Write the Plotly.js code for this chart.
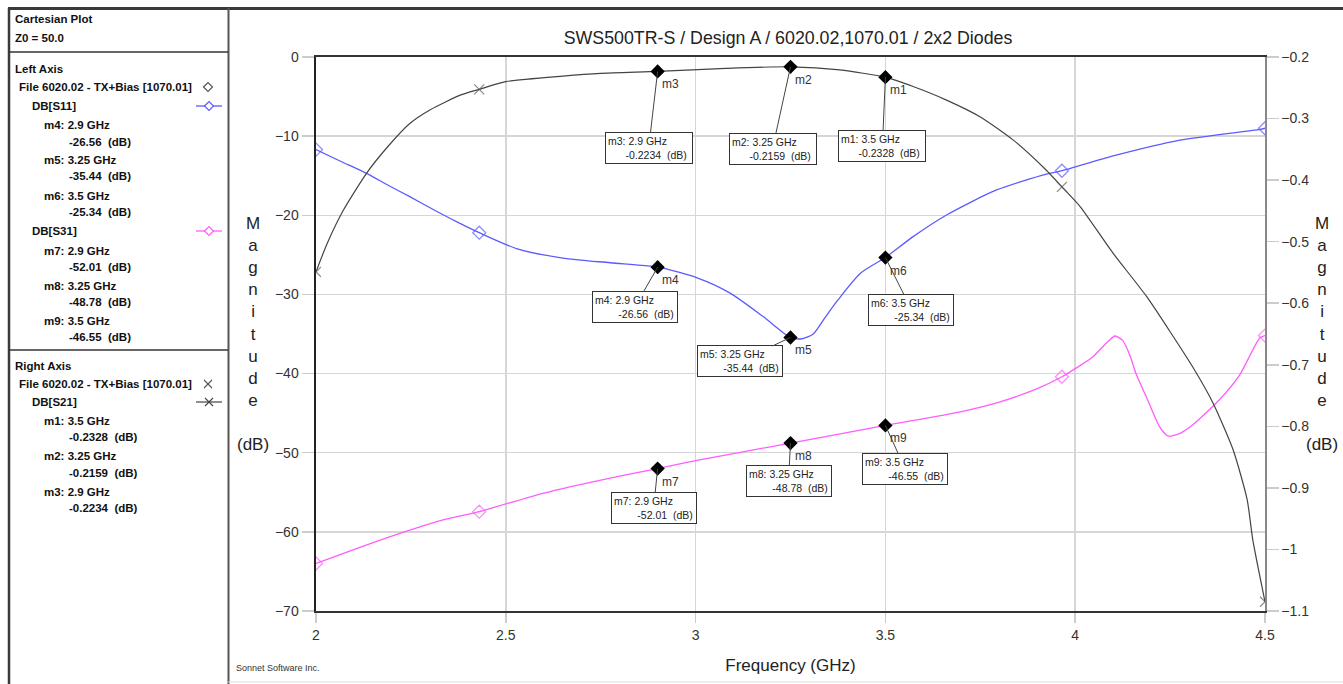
<!DOCTYPE html>
<html>
<head>
<meta charset="utf-8">
<script src="https://cdn.plot.ly/plotly-3.0.1.min.js"></script>
<style>html,body{margin:0;padding:0;background:#fff;}#chart{width:1343px;height:684px;}</style>
</head>
<body>
<div id="chart"></div>
<script>
// ---------- DATA ----------
const s11Freq = [2.000,2.066,2.133,2.190,2.247,2.310,2.370,2.430,2.528,2.650,2.775,2.900,3.004,3.090,3.178,3.250,3.280,3.310,3.340,3.375,3.435,3.500,3.573,3.661,3.793,3.924,3.965,4.100,4.276,4.487,4.500];
const s11Val  = [-11.7,-13.2,-14.7,-16.2,-17.65,-19.3,-20.8,-22.2,-24.2,-25.4,-26.0,-26.56,-27.9,-29.8,-32.8,-35.44,-35.6,-35.0,-33.0,-30.7,-27.3,-25.34,-22.7,-19.96,-16.8,-14.8,-14.37,-12.5,-10.5,-9.14,-9.0];

const s31Freq = [2.000,2.160,2.335,2.430,2.600,2.775,2.900,3.000,3.250,3.500,3.700,3.800,3.900,3.965,4.046,4.085,4.105,4.125,4.145,4.160,4.187,4.222,4.245,4.276,4.309,4.380,4.433,4.486,4.500];
const s31Val  = [-64.0,-61.2,-58.5,-57.45,-55.1,-53.2,-52.01,-51.0,-48.78,-46.55,-44.8,-43.6,-41.9,-40.4,-37.9,-36.0,-35.25,-35.8,-37.8,-40.0,-42.9,-46.7,-47.9,-47.55,-46.5,-43.3,-40.2,-35.5,-35.2];

const s21Freq = [2.000,2.030,2.072,2.133,2.190,2.247,2.300,2.380,2.430,2.500,2.650,2.750,2.900,3.080,3.250,3.380,3.500,3.573,3.661,3.749,3.837,3.924,3.965,4.013,4.100,4.188,4.310,4.363,4.416,4.453,4.468,4.500];
const s21Val  = [-0.549,-0.502,-0.449,-0.389,-0.345,-0.308,-0.286,-0.262,-0.2525,-0.240,-0.231,-0.2265,-0.2234,-0.2185,-0.2159,-0.221,-0.2328,-0.248,-0.270,-0.297,-0.335,-0.384,-0.411,-0.443,-0.519,-0.589,-0.704,-0.762,-0.838,-0.919,-0.985,-1.085];

const symbolFreq = [2.000, 2.430, 3.965, 4.500];

const markFreq = [2.9, 3.25, 3.5];
const s11Marks = [-26.56, -35.44, -25.34];   // m4, m5, m6
const s31Marks = [-52.01, -48.78, -46.55];   // m7, m8, m9
const s21Marks = [-0.2234, -0.2159, -0.2328]; // m3, m2, m1

const xTicks = [2, 2.5, 3, 3.5, 4, 4.5];
const xTickText = ['2', '2.5', '3', '3.5', '4', '4.5'];
const yTicks = [0, -10, -20, -30, -40, -50, -60, -70];
const y2Ticks = [-0.2, -0.3, -0.4, -0.5, -0.6, -0.7, -0.8, -0.9, -1, -1.1];

const titleText = 'SWS500TR-S / Design A / 6020.02,1070.01 / 2x2 Diodes';

// ---------- LAYOUT HELPERS ----------
const W = 1343, H = 684, ML = 316, MT = 57, MR = 78, MB = 73;
const PW = W - ML - MR, PH = H - MT - MB;
const px = x => (x - ML) / PW;
const py = y => 1 - (y - MT) / PH;

const FONT = 'Liberation Sans, Arial, sans-serif';
const C11 = '#5b5bff', C31 = '#ff5cff', C21 = '#444444';

function sizes(freqs) { return freqs.map(f => symbolFreq.some(s => Math.abs(s - f) < 1e-6) ? 10 : 0); }

const traces = [
  {x: s11Freq, y: s11Val, type: 'scatter', mode: 'lines+markers', name: 'DB[S11]',
   line: {color: C11, width: 1.3, shape: 'spline', smoothing: 0.7},
   marker: {symbol: 'diamond-open', size: sizes(s11Freq), color: C11, line: {width: 1.3}}},
  {x: s31Freq, y: s31Val, type: 'scatter', mode: 'lines+markers', name: 'DB[S31]',
   line: {color: C31, width: 1.3, shape: 'spline', smoothing: 0.6},
   marker: {symbol: 'diamond-open', size: sizes(s31Freq), color: C31, line: {width: 1.3}}},
  {x: s21Freq, y: s21Val, type: 'scatter', mode: 'lines+markers', name: 'DB[S21]', yaxis: 'y2',
   line: {color: C21, width: 1.2, shape: 'spline', smoothing: 0.6},
   marker: {symbol: 'x-thin-open', size: sizes(s21Freq), color: '#555', line: {width: 1.2, color: '#555'}}},
  {x: markFreq, y: s11Marks, type: 'scatter', mode: 'markers', marker: {symbol: 'diamond', size: 11, color: '#000'}},
  {x: markFreq, y: s31Marks, type: 'scatter', mode: 'markers', marker: {symbol: 'diamond', size: 11, color: '#000'}},
  {x: markFreq, y: s21Marks, type: 'scatter', mode: 'markers', yaxis: 'y2', marker: {symbol: 'diamond', size: 11, color: '#000'}}
];

const annotations = [];
const shapes = [];
const nb = n => '\u00a0'.repeat(n);

// marker boxes
const boxes = [
  {name: 'm3', f: 2.9,  v: s21Marks[0], yref: 'y2', ax: -9,  ay: 77},
  {name: 'm2', f: 3.25, v: s21Marks[1], yref: 'y2', ax: -18, ay: 82},
  {name: 'm1', f: 3.5,  v: s21Marks[2], yref: 'y2', ax: -3,  ay: 69},
  {name: 'm4', f: 2.9,  v: s11Marks[0], yref: 'y',  ax: -23, ay: 40},
  {name: 'm5', f: 3.25, v: s11Marks[1], yref: 'y',  ax: -51, ay: 24},
  {name: 'm6', f: 3.5,  v: s11Marks[2], yref: 'y',  ax: 26,  ay: 52},
  {name: 'm7', f: 2.9,  v: s31Marks[0], yref: 'y',  ax: -4,  ay: 39},
  {name: 'm8', f: 3.25, v: s31Marks[1], yref: 'y',  ax: -2,  ay: 38},
  {name: 'm9', f: 3.5,  v: s31Marks[2], yref: 'y',  ax: 20,  ay: 44}
];
boxes.forEach(b => {
  const fs = (b.f === 3.25) ? '3.25' : String(b.f);
  const isR = b.yref === 'y2';
  const vs = isR ? b.v.toFixed(4) : b.v.toFixed(2);
  annotations.push({
    x: b.f, y: b.v, xref: 'x', yref: b.yref, ax: b.ax, ay: b.ay,
    showarrow: true, arrowhead: 0, arrowwidth: 1, arrowcolor: '#444', standoff: 0,
    text: b.name + ': ' + fs + ' GHz<br>' + nb(isR ? 6 : 8) + vs + nb(2) + '(dB)',
    align: 'left', width: isR ? 82 : 80, borderpad: 2, bordercolor: '#333', borderwidth: 1, bgcolor: '#fff',
    font: {family: FONT, size: 10.5, color: '#222'}
  });
  annotations.push({
    x: b.f, y: b.v, xref: 'x', yref: b.yref, showarrow: false, xshift: 13, yshift: -13,
    text: b.name, font: {family: FONT, size: 12, color: '#333'}
  });
});

// y axis titles (stacked letters)
const stack = 'M<br>a<br>g<br>n<br>i<br>t<br>u<br>d<br>e<br><br>(dB)';
annotations.push({xref: 'paper', yref: 'paper', x: px(253), y: py(334), text: stack, showarrow: false,
  xanchor: 'center', yanchor: 'middle', align: 'center', font: {family: FONT, size: 17, color: '#222'}});
annotations.push({xref: 'paper', yref: 'paper', x: px(1322), y: py(334), text: stack, showarrow: false,
  xanchor: 'center', yanchor: 'middle', align: 'center', font: {family: FONT, size: 17, color: '#222'}});

// left info panel text
const panel = [
  ['Cartesian Plot', 13, 19], ['Z0 = 50.0', 13, 38],
  ['Left Axis', 13, 69], ['File 6020.02 - TX+Bias [1070.01]', 17, 87], ['DB[S11]', 30, 106],
  ['m4: 2.9 GHz', 42, 125], ['-26.56  (dB)', 67, 142],
  ['m5: 3.25 GHz', 42, 160], ['-35.44  (dB)', 67, 176],
  ['m6: 3.5 GHz', 42, 196], ['-25.34  (dB)', 67, 212],
  ['DB[S31]', 30, 231],
  ['m7: 2.9 GHz', 42, 251], ['-52.01  (dB)', 67, 267],
  ['m8: 3.25 GHz', 42, 286], ['-48.78  (dB)', 67, 302],
  ['m9: 3.5 GHz', 42, 321], ['-46.55  (dB)', 67, 337],
  ['Right Axis', 13, 366], ['File 6020.02 - TX+Bias [1070.01]', 17, 384], ['DB[S21]', 30, 402],
  ['m1: 3.5 GHz', 42, 421], ['-0.2328  (dB)', 67, 437],
  ['m2: 3.25 GHz', 42, 456], ['-0.2159  (dB)', 67, 473],
  ['m3: 2.9 GHz', 42, 492], ['-0.2234  (dB)', 67, 508]
];
panel.forEach(p => annotations.push({
  xref: 'paper', yref: 'paper', x: px(p[1]), y: py(p[2]), xanchor: 'left', yanchor: 'middle',
  showarrow: false, text: '<b>' + p[0].replace(/  /g, '\u00a0\u00a0') + '</b>',
  font: {family: FONT, size: 11.5, color: '#111'}
}));
annotations.push({xref: 'paper', yref: 'paper', x: px(234), y: py(668), xanchor: 'left', yanchor: 'middle',
  showarrow: false, text: 'Sonnet Software Inc.', font: {family: FONT, size: 9, color: '#333'}});

// panel frame
const pline = (x0, y0, x1, y1, w, c) => shapes.push({type: 'line', xref: 'paper', yref: 'paper',
  x0: px(x0), y0: py(y0), x1: px(x1), y1: py(y1), line: {color: c, width: w}});
pline(8, 8.5, 1343, 8.5, 3, '#3a3a3a');
pline(9, 8, 9, 684, 2.5, '#3a3a3a');
pline(228.5, 8, 228.5, 684, 2, '#555');
pline(9, 52, 228, 52, 1.5, '#333');
pline(9, 350, 228, 350, 1.5, '#333');
pline(228, 682, 1343, 682, 1, '#ddd');

// legend symbols
function diamond(cx, cy, r, c) {
  shapes.push({type: 'path', xref: 'paper', yref: 'paper', fillcolor: '#fff', line: {color: c, width: 1.2},
    path: `M ${px(cx - r)},${py(cy)} L ${px(cx)},${py(cy - r)} L ${px(cx + r)},${py(cy)} L ${px(cx)},${py(cy + r)} Z`});
}
function cross(cx, cy, r, c) {
  pline(cx - r, cy - r, cx + r, cy + r, 1.1, c);
  pline(cx - r, cy + r, cx + r, cy - r, 1.1, c);
}
diamond(208, 87, 4.5, '#555');
pline(196, 106, 222, 106, 1.3, C11); diamond(209, 106, 4.5, C11);
pline(196, 231, 222, 231, 1.3, C31); diamond(209, 231, 4.5, C31);
cross(208, 384, 4, '#555');
pline(196, 402, 222, 402, 1.2, '#444'); cross(209, 402, 4, '#444');

const layout = {
  width: W, height: H,
  margin: {l: ML, r: MR, t: MT, b: MB, pad: 0},
  paper_bgcolor: '#fff', plot_bgcolor: '#fff',
  showlegend: false,
  font: {family: FONT, color: '#222'},
  title: {text: titleText, x: (788 - ML) / PW, xref: 'paper', xanchor: 'center', y: 1 - 38 / H, yref: 'container', yanchor: 'middle',
    font: {family: FONT, size: 17.8, color: '#222'}},
  xaxis: {range: [2, 4.5], tickvals: xTicks, ticktext: xTickText, showgrid: true, gridcolor: '#d6d6d6', gridwidth: 1.5,
    zeroline: false, showline: true, mirror: true, linecolor: '#333', linewidth: 2,
    ticks: 'outside', ticklen: 10, tickcolor: '#ccc', tickwidth: 1.5,
    tickfont: {family: FONT, size: 14, color: '#333'},
    title: {text: 'Frequency (GHz)', standoff: 17, font: {family: FONT, size: 17, color: '#222'}}},
  yaxis: {range: [-70, 0], tickvals: yTicks, showgrid: true, gridcolor: '#d6d6d6', gridwidth: 1.5,
    zeroline: false, showline: true, linecolor: '#222', linewidth: 2.5,
    ticks: 'outside', ticklen: 12, tickcolor: '#ccc', tickwidth: 1.5,
    tickfont: {family: FONT, size: 14, color: '#333'}},
  yaxis2: {range: [-1.1, -0.2], tickvals: y2Ticks, overlaying: 'y', side: 'right', showgrid: false,
    zeroline: false, showline: true, linecolor: '#888', linewidth: 1.5,
    ticks: 'outside', ticklen: 12, tickcolor: '#ccc', tickwidth: 1.5,
    tickfont: {family: FONT, size: 14, color: '#333'}},
  annotations: annotations,
  shapes: shapes
};

Plotly.newPlot('chart', traces, layout, {displayModeBar: false, staticPlot: true});
</script>
</body>
</html>
